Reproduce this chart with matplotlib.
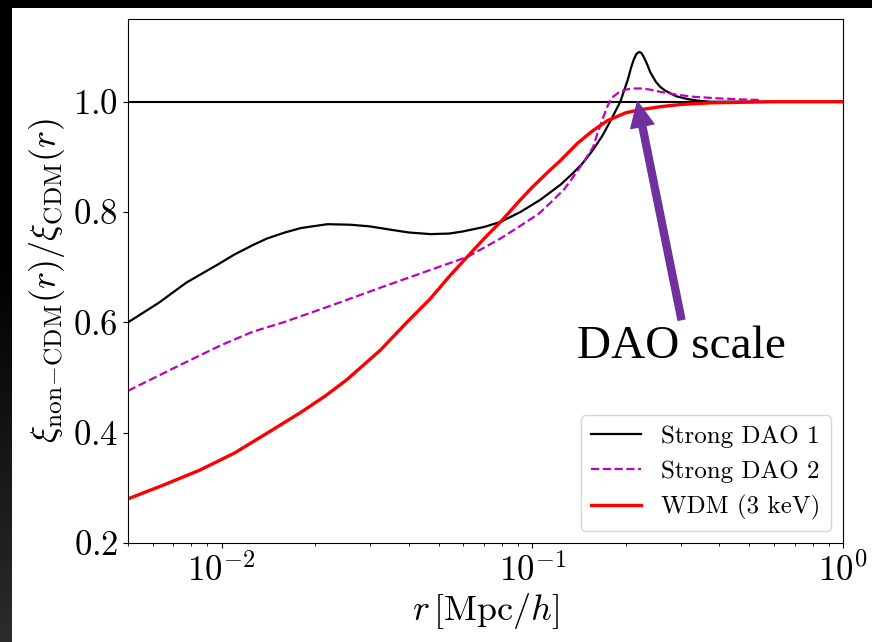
import numpy as np
import matplotlib
matplotlib.use("Agg")
import matplotlib.pyplot as plt

plt.rcParams['font.family'] = 'serif'
plt.rcParams['font.serif'] = ['cmr10']
plt.rcParams['mathtext.fontset'] = 'cm'
plt.rcParams['axes.unicode_minus'] = False
plt.rcParams['axes.formatter.use_mathtext'] = True

# ratio of correlation functions, read per model
r_dao1 = [0.005, 0.0063, 0.0077, 0.0098, 0.011, 0.0126, 0.014, 0.016, 0.018, 0.0219,
          0.026, 0.03, 0.035, 0.04, 0.047, 0.054, 0.06, 0.07, 0.079, 0.0915,
          0.106, 0.1235, 0.1355, 0.146, 0.157, 0.168, 0.178, 0.192, 0.203, 0.208,
          0.212, 0.216, 0.22, 0.224, 0.228, 0.233, 0.24, 0.25, 0.258, 0.268,
          0.279, 0.29, 0.315, 0.34, 0.374, 0.5, 1.0]
xi_dao1 = [0.600, 0.636, 0.672, 0.706, 0.723, 0.740, 0.752, 0.763, 0.771, 0.778,
           0.777, 0.774, 0.768, 0.763, 0.760, 0.761, 0.765, 0.773, 0.782, 0.800,
           0.822, 0.850, 0.871, 0.890, 0.913, 0.938, 0.964, 1.000, 1.040, 1.062,
           1.076, 1.086, 1.090, 1.089, 1.082, 1.071, 1.053, 1.036, 1.027, 1.020,
           1.015, 1.010, 1.005, 1.002, 1.000, 1.000, 1.000]

r_dao2 = [0.005, 0.0059, 0.0075, 0.01, 0.0126, 0.016, 0.0219, 0.0325, 0.047, 0.062,
          0.079, 0.0915, 0.105, 0.117, 0.127, 0.1355, 0.146, 0.157, 0.162, 0.168,
          0.174, 0.18, 0.19, 0.20, 0.21, 0.223, 0.24, 0.258, 0.29, 0.33,
          0.4, 0.48, 0.55]
xi_dao2 = [0.476, 0.496, 0.525, 0.559, 0.583, 0.601, 0.628, 0.663, 0.695, 0.719,
           0.752, 0.775, 0.797, 0.822, 0.842, 0.864, 0.890, 0.918, 0.942, 0.967,
           0.990, 1.007, 1.017, 1.022, 1.024, 1.024, 1.022, 1.018, 1.013, 1.009,
           1.006, 1.004, 1.003]

r_wdm = [0.005, 0.0065, 0.0085, 0.011, 0.014, 0.0179, 0.0215, 0.0253, 0.0325, 0.039,
         0.047, 0.054, 0.0618, 0.07, 0.079, 0.0915, 0.1, 0.113, 0.123, 0.14,
         0.157, 0.175, 0.2, 0.22, 0.258, 0.3, 0.374, 0.6, 1.0]
xi_wdm = [0.280, 0.305, 0.332, 0.363, 0.399, 0.436, 0.466, 0.496, 0.550, 0.597,
          0.643, 0.683, 0.719, 0.752, 0.782, 0.822, 0.845, 0.874, 0.893, 0.925,
          0.948, 0.966, 0.980, 0.985, 0.991, 0.995, 0.998, 1.000, 1.000]

labels = ['Strong DAO 1', 'Strong DAO 2', 'WDM (3 keV)']

# where the DAO bump sits
dao_r, dao_xi = 0.218, 1.0

fig = plt.figure(figsize=(8.72, 6.42), dpi=100, facecolor='black')

# white page with dark left strip fading toward the bottom
page = fig.add_axes([11/872, 0, 1 - 11/872, 1 - 8/642])
page.set_facecolor('white')
page.set_axis_off()
page.add_patch(plt.Rectangle((0, 0), 1, 1, color='white', transform=page.transAxes))
strip = fig.add_axes([0, 0, 11/872, 1])
strip.set_axis_off()
grad = np.concatenate([np.zeros(40), np.linspace(0, 0.17, 60)])[:, None]
strip.imshow(grad, cmap='gray', vmin=0, vmax=1, aspect='auto', origin='upper',
             extent=[0, 1, 0, 1])

ax = fig.add_axes([128/872, 1 - 543/642, (843 - 128)/872, (543 - 19)/642])
ax.axhline(1.0, color='black', lw=1.5)
ax.plot(r_dao1, xi_dao1, color='black', lw=1.6, label=labels[0])
ax.plot(r_dao2, xi_dao2, color='m', lw=1.6, ls='--', label=labels[1])
ax.plot(r_wdm, xi_wdm, color='red', lw=2.4, label=labels[2])

ax.set_xscale('log')
ax.set_xlim(0.005, 1.0)
ax.set_ylim(0.2, 1.15)
ax.set_yticks([0.2, 0.4, 0.6, 0.8, 1.0])
ax.tick_params(axis='both', which='major', labelsize=25)
ax.set_xlabel(r'$r\,[\mathrm{Mpc}/h]$', fontsize=26, labelpad=2)
ax.set_ylabel(r'$\xi_{\mathrm{non}\!-\!\mathrm{CDM}}(r)/\xi_{\mathrm{CDM}}(r)$',
              fontsize=26, labelpad=4)

ax.legend(loc='lower right', fontsize=18, handlelength=2.0)

ax.annotate('', xy=(dao_r, dao_xi), xytext=(0.302, 0.605),
            arrowprops=dict(facecolor='#7030A0', edgecolor='#7030A0',
                            width=5, headwidth=17, headlength=18, shrink=0))
ax.text(0.302, 0.555, 'DAO scale', fontsize=34, family='Liberation Serif',
        ha='center', va='center')

fig.savefig('out.png', dpi=100, facecolor='black')
